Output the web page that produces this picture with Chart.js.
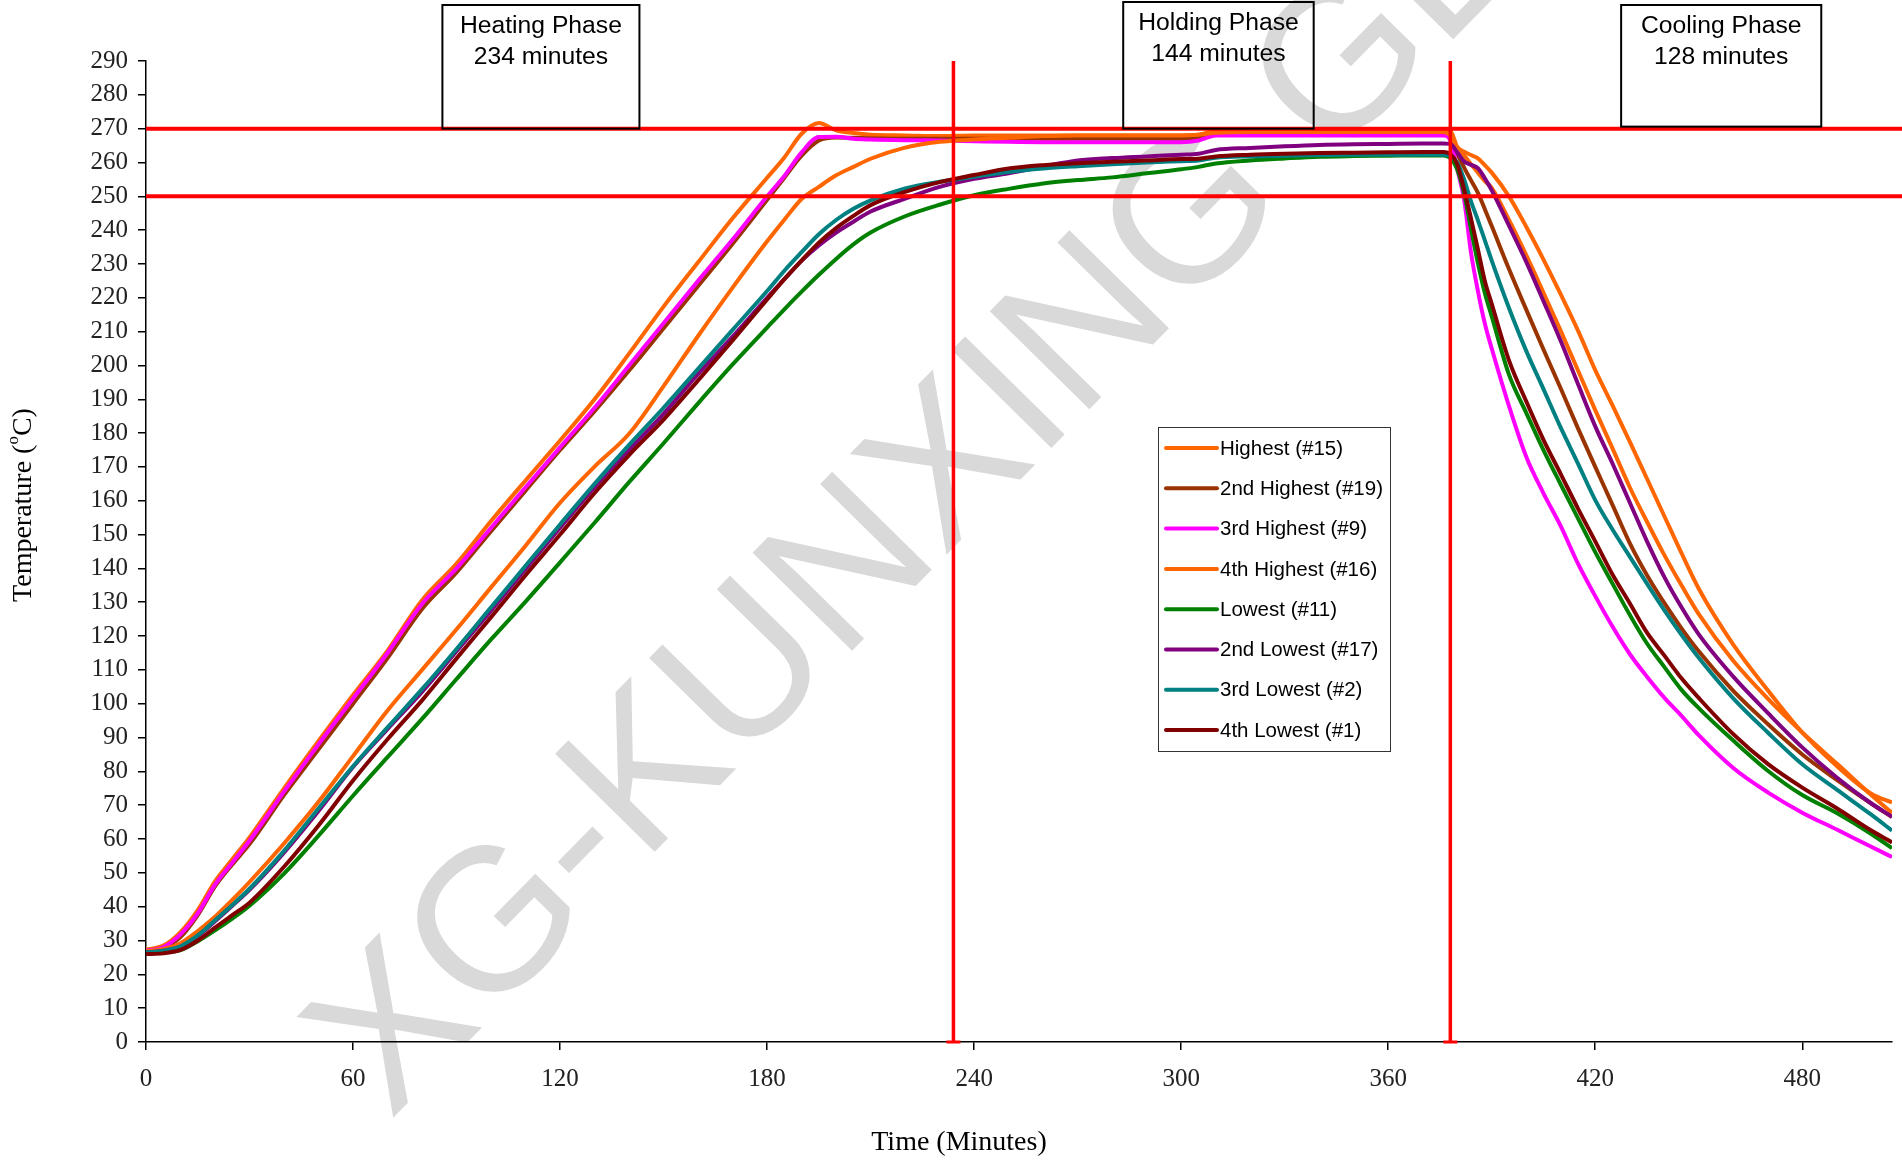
<!DOCTYPE html>
<html>
<head>
<meta charset="utf-8">
<script src="https://cdn.jsdelivr.net/npm/chart.js@4.4.0/dist/chart.umd.min.js"></script>
<style>
  html, body { margin: 0; padding: 0; background: #fff; }
</style>
</head>
<body>
<canvas id="chart" width="1902" height="1160"></canvas>
<script>
// time axis (minutes) shared by every thermocouple
const minutes = [0, 5, 10, 15, 20, 25, 30,
  40, 50, 60, 70, 80, 90, 100, 110, 120, 130, 140, 150, 160, 170, 180,
  185, 190, 195, 200, 205, 210,
  220, 230, 240, 250, 260, 270, 280, 290, 300,
  305, 310,
  320, 330, 340, 350, 360, 370,
  376, 378, 380, 382, 384, 386, 388, 390,
  395, 400, 405, 410, 415, 420, 425, 430, 435, 440, 445, 450,
  460, 470, 480, 490, 500, 506];

// temperatures (°C)
const highest15 = [27.3, 28.5, 32.5, 39, 47.5, 54, 60.5,
  75, 89, 102.6, 115.7, 130.6, 141.4, 154, 166, 177.8, 190, 203.5, 217.4, 230.5, 243.5, 255.5,
  261.5, 268.5, 271.7, 269.5, 268.7, 268.2,
  268, 267.8, 268, 268, 268, 268, 268, 268, 268,
  268.2, 269.3,
  269.4, 269.5, 269.5, 269.5, 269.5, 269.5,
  269.5, 269.4, 264.6, 263.2, 262.2, 261.2, 259.2, 257,
  250, 241, 231.3, 221, 210.3, 198.6, 188.2, 177.5, 166.5, 155.5, 144.5, 134,
  117.5, 104, 91.5, 81.6, 73.4, 70.8];

const highest2nd19 = [26.8, 27.8, 31, 37.5, 46, 52.5, 58.5,
  73, 86.5, 100, 113.5, 128, 138.8, 151, 163, 175, 186.5, 198.5, 211, 223.5, 236, 249,
  255.5, 262, 266.5, 267.4, 267.3, 267.2,
  267, 267, 267, 267, 267, 267, 267, 267, 267,
  267.2, 268.5,
  268.6, 268.7, 268.7, 268.7, 268.7, 268.7,
  268.6, 267.5, 262.6, 258.5, 254.7, 251, 246.2, 241.2,
  228.5, 216.5, 204.7, 193.2, 181.4, 170, 158.8, 147.5, 138, 129.8, 122.3, 115.5,
  103.8, 94, 85, 77.5, 70.5, 66.5];

const highest3rd9 = [27, 28, 31.8, 38, 46.5, 53, 59.5,
  74, 88, 101.5, 115, 129.5, 140, 152, 164, 175.8, 187.5, 200, 212.5, 225, 237.2, 250,
  256, 263, 267.5, 267.6, 267, 266.8,
  266.6, 266.5, 266.3, 266.1, 266, 266, 266, 266, 266,
  266.5, 268,
  268, 268, 268, 268, 268, 268,
  268, 266.5, 258, 249, 233.3, 222, 212.4, 205,
  188, 173, 162.2, 152.5, 141.4, 131.8, 122.8, 114.7, 108, 101.8, 96.4, 90.7,
  81, 73.8, 67.8, 62.8, 57.7, 54.7];

const highest4th16 = [26.8, 27.5, 29.2, 32.8, 37, 42, 47.3,
  58.7, 71, 84.5, 98, 110, 122, 134.4, 146.7, 159.4, 170.1, 179.8, 193.9, 208.7, 223, 236.7,
  243.1, 249.2, 252.8, 256.2, 258.7, 261.1,
  264.4, 266.1, 266.8, 267.3, 267.8, 268, 268, 268, 268,
  268.2, 268.8,
  269, 269, 269, 269, 269, 269,
  269, 268, 264, 262, 259.5, 257, 254.5, 252.5,
  243, 232.6, 221.5, 210.2, 198.5, 186.8, 175.5, 164, 153.8, 144, 135, 126.5,
  112.7, 101.5, 91.5, 82.3, 73, 67.7];

const lowest11 = [26.2, 26.5, 27.2, 29.8, 33, 36.5, 40.3,
  49.8, 61, 72.8, 84.2, 95.5, 107.3, 119, 130.2, 141.8, 153.5, 165.5, 177, 188.8, 200.3, 211.2,
  216.6, 221.8, 226.8, 231.5, 235.8, 239.3,
  244.1, 247.5, 250.3, 252.2, 253.8, 254.8, 255.6, 256.8, 258,
  258.7, 259.7,
  260.6, 261.2, 261.7, 261.9, 262, 262.1,
  262.1, 261.3, 258, 250.8, 240.3, 230.2, 221.4, 214.5,
  197.3, 186, 175, 164.8, 154.8, 144.8, 135.5, 126.3, 117.8, 110.9, 104.1, 98.7,
  89.1, 80.2, 73, 67.7, 61.5, 57.3];

const lowest2nd17 = [26.5, 27, 28.2, 31.3, 35.7, 40.3, 45,
  56, 68.3, 81.3, 92.5, 103.5, 115.5, 127.5, 139.8, 152, 164, 175, 185.7, 197.5, 208.5, 220,
  225.5, 231, 235.5, 239.3, 242.5, 245.5,
  249.3, 252.8, 255.2, 256.8, 258.8, 260.6, 261.3, 261.8, 262.3,
  262.6, 263.7,
  264.3, 264.8, 265.2, 265.4, 265.5, 265.6,
  265.6, 265.5, 263, 260.3, 259.3, 258.3, 255.3, 251.8,
  241.3, 230.6, 219, 207.2, 194.5, 182, 171, 159.5, 148, 137.5, 128.5, 120.5,
  108, 97.3, 87.1, 78.2, 70.5, 66.6];

const lowest3rd2 = [26.5, 27, 28.3, 31.5, 36, 40.5, 45.3,
  56.5, 69, 81.5, 93, 104.3, 116.2, 128.5, 140.8, 153, 165, 176.5, 187.5, 199, 210.5, 222,
  228, 233.5, 238.8, 243, 246.3, 248.8,
  252.3, 254.3, 255.8, 257.2, 258.2, 258.9, 259.5, 260, 260.4,
  260.6, 261.4,
  261.8, 262, 262.2, 262.3, 262.3, 262.3,
  262.3, 261.8, 260, 255, 248.5, 242.9, 237, 231,
  217, 204.3, 193, 181.6, 171, 160.2, 151.5, 143.5, 135.5, 127.7, 120.4, 113.6,
  101.6, 91.5, 82.1, 74.6, 67.2, 62.5];

const lowest4th1 = [26, 26.2, 27.2, 30, 33.8, 37.5, 41.2,
  51.8, 64, 77.3, 89.5, 101, 113.4, 125.6, 138, 150, 162.3, 173.5, 184, 195.6, 207.4, 219.5,
  225.5, 231, 236.3, 240.6, 244.2, 247.4,
  251.3, 254.2, 256.3, 258.2, 259.2, 259.8, 260.2, 260.6, 261,
  261.1, 261.8,
  262.3, 262.6, 262.8, 262.9, 263, 263.1,
  263.1, 262.5, 259.5, 252, 243.4, 234.3, 225, 218.2,
  201.5, 189.4, 178, 167.9, 157.7, 148, 138.2, 129.7, 121, 114.3, 107.5, 101.7,
  91, 82.2, 75.2, 69.1, 62.5, 59];

const seriesNames = ["Highest (#15)", "2nd Highest (#19)", "3rd Highest (#9)", "4th Highest (#16)",
  "Lowest (#11)", "2nd Lowest (#17)", "3rd Lowest (#2)", "4th Lowest (#1)"];
const seriesValues = [highest15, highest2nd19, highest3rd9, highest4th16,
  lowest11, lowest2nd17, lowest3rd2, lowest4th1];
const seriesColors = ["#FF6600", "#993300", "#FF00FF", "#FF6600",
  "#008000", "#800080", "#008080", "#800000"];

// spec band and phase boundaries
const limitTemps = [250, 270];
const phaseBounds = [234, 378];
const phaseLabels = [
  ["Heating Phase", "234 minutes"],
  ["Holding Phase", "144 minutes"],
  ["Cooling Phase", "128 minutes"]
];

const xMax = 506;
const yMax = 290;

const serif = '"Liberation Serif", "Times New Roman", serif';
const sans = '"Liberation Sans", Arial, sans-serif';

const datasets = seriesValues.map((vals, i) => ({
  label: seriesNames[i],
  data: minutes.map((m, j) => ({ x: m, y: vals[j] })),
  borderColor: seriesColors[i],
  backgroundColor: seriesColors[i],
  borderWidth: 4,
  pointRadius: 0,
  cubicInterpolationMode: 'monotone',
  order: seriesValues.length - i
}));

// red limit lines run a little past the end of the x axis
limitTemps.forEach(v => {
  datasets.push({
    label: 'limit',
    data: [{ x: 0, y: v }, { x: xMax + 3, y: v }],
    borderColor: '#FF0000',
    borderWidth: 4,
    pointRadius: 0,
    clip: { left: 0, top: 5, right: 10, bottom: 5 },
    order: 0
  });
});

phaseBounds.forEach(t => {
  datasets.push({
    label: 'phase',
    data: [{ x: t, y: 0 }, { x: t, y: yMax }],
    borderColor: '#FF0000',
    borderWidth: 3.5,
    pointStyle: 'line',
    pointRadius: [7, 0],
    pointBorderColor: '#FF0000',
    pointBorderWidth: 3,
    clip: 10,
    order: 0
  });
});

// light watermark behind everything
const watermark = {
  id: 'watermark',
  beforeDraw(chart) {
    const c = chart.ctx;
    c.save();
    c.fillStyle = '#fff';
    c.fillRect(0, 0, chart.width, chart.height);
    c.translate(390, 1121);
    c.rotate(-45.5 * Math.PI / 180);
    c.font = '203px ' + sans;
    c.fillStyle = '#d9d9d9';
    c.textBaseline = 'alphabetic';
    c.fillText('XG-KUNXING GLASS', 0, 0);
    c.restore();
  }
};

// phase boxes, legend box and axis titles
const decorations = {
  id: 'decorations',
  afterDraw(chart) {
    const c = chart.ctx;
    const xs = chart.scales.x, ys = chart.scales.y;
    c.save();

    // phase label boxes
    const boxes = [
      { t0: 85.9, t1: 143, top: 5, bottom: 270 },
      { t0: 283.2, t1: 338.4, top: 2, bottom: 270 },
      { t0: 427.5, t1: 485.5, top: 5, bottom: 270.6 }
    ];
    c.lineWidth = 2;
    c.strokeStyle = '#000';
    c.fillStyle = '#000';
    c.font = '24.7px ' + sans;
    c.textAlign = 'center';
    c.textBaseline = 'middle';
    boxes.forEach((b, i) => {
      const x0 = xs.getPixelForValue(b.t0), x1 = xs.getPixelForValue(b.t1);
      const y1 = ys.getPixelForValue(b.bottom);
      c.strokeRect(x0, b.top, x1 - x0, y1 - b.top);
      const cx = (x0 + x1) / 2;
      c.fillText(phaseLabels[i][0], cx, b.top + 21);
      c.fillText(phaseLabels[i][1], cx, b.top + 52);
    });

    // legend
    const lx = 1158, ly = 427, lw = 232, lh = 324;
    c.fillStyle = '#fff';
    c.fillRect(lx, ly, lw, lh);
    c.lineWidth = 1;
    c.strokeStyle = '#333';
    c.strokeRect(lx + 0.5, ly + 0.5, lw, lh);
    c.font = '20.5px ' + sans;
    c.textAlign = 'left';
    c.lineCap = 'round';
    seriesNames.forEach((name, i) => {
      const y = ly + 21 + i * 40.3;
      c.strokeStyle = seriesColors[i];
      c.lineWidth = 4;
      c.beginPath();
      c.moveTo(lx + 8, y);
      c.lineTo(lx + 59, y);
      c.stroke();
      c.fillStyle = '#000';
      c.fillText(name, lx + 62, y + 1);
    });

    // x axis title
    c.fillStyle = '#000';
    c.font = '28px ' + serif;
    c.textAlign = 'center';
    c.textBaseline = 'middle';
    c.fillText('Time (Minutes)', 959, 1143);

    // y axis title with superscript degree
    c.translate(24, 505);
    c.rotate(-Math.PI / 2);
    const big = '28px ' + serif, small = '17px ' + serif;
    const parts = [['Temperature (', big, 0], ['o', small, -10], ['C)', big, 0]];
    let total = 0;
    parts.forEach(p => { c.font = p[1]; total += c.measureText(p[0]).width; });
    let x = -total / 2;
    c.textAlign = 'left';
    parts.forEach(p => {
      c.font = p[1];
      c.fillText(p[0], x, p[2]);
      x += c.measureText(p[0]).width;
    });
    c.restore();
  }
};

new Chart(document.getElementById('chart'), {
  type: 'line',
  data: { datasets: datasets },
  options: {
    responsive: false,
    animation: false,
    devicePixelRatio: 1,
    layout: { padding: { top: 61, right: 8, bottom: 0, left: 0 } },
    plugins: {
      legend: { display: false },
      tooltip: { enabled: false }
    },
    scales: {
      x: {
        type: 'linear',
        min: 0,
        max: xMax,
        afterFit: s => { s.height = 118; },
        ticks: {
          stepSize: 60,
          includeBounds: false,
          maxRotation: 0,
          padding: 14,
          color: '#222',
          font: { family: serif, size: 25 }
        },
        grid: { drawOnChartArea: false, tickLength: 8, color: '#000', lineWidth: 1.5 },
        border: { color: '#000', width: 1.5 }
      },
      y: {
        min: 0,
        max: yMax,
        afterFit: s => { s.width = 146; },
        ticks: {
          stepSize: 10,
          padding: 10,
          color: '#222',
          font: { family: serif, size: 25 }
        },
        grid: { drawOnChartArea: false, tickLength: 8, color: '#000', lineWidth: 1.5 },
        border: { color: '#000', width: 1.5 }
      }
    }
  },
  plugins: [watermark, decorations]
});
</script>
</body>
</html>
